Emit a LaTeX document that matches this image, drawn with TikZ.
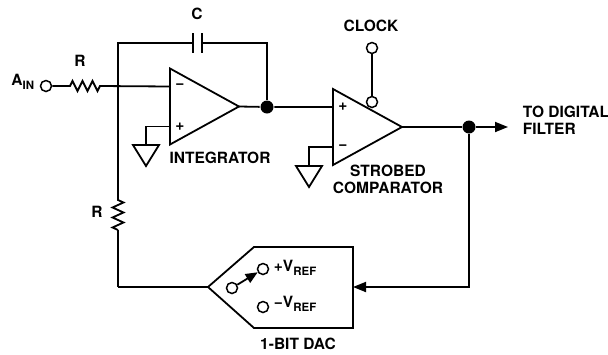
\documentclass[tikz,border=0pt]{standalone}
\usepackage{fontspec}
\setmainfont{TeX Gyre Heros}
\usetikzlibrary{positioning,arrows.meta}

\newcommand{\lowtext}[1]{\raisebox{-0.55ex}{\fontsize{11.5}{12}\selectfont #1}}

\begin{document}
\begin{tikzpicture}[x=1pt,y=-1pt,line width=1.8pt,
  lbl/.style={font=\fontsize{15.5}{17}\selectfont\bfseries,inner sep=0pt},
  pinterm/.style={circle,draw,fill=white,minimum size=11pt,inner sep=0pt,line width=1.5pt},
  joint/.style={circle,fill=black,minimum size=13pt,inner sep=0pt},
  flowarrow/.style={-{Triangle[length=13pt,width=10pt]}},
  pics/gnd/.style={code={\draw (-13,0) -- (13,0) -- (0,21) -- cycle;}},
  pics/opamp/.style 2 args={code={
    \draw (0,-38) -- (69,0) -- (0,38) -- cycle;
    \coordinate (-a) at (0,-20);
    \coordinate (-b) at (0,20);
    \coordinate (-out) at (69,0);
    \node[lbl] at (10,-20) {#1};
    \node[lbl] at (10,20) {#2};}}]

  \useasboundingbox (0,0) rectangle (608,354);

  % op amps
  \pic (int) at (170,106.5) {opamp={−}{+}};
  \pic (cmp) at (333,127) {opamp={+}{−}};

  % terminals and junctions
  \node[pinterm] (ain) at (46,86) {};
  \node[pinterm] (clk) at (372,48) {};
  \node[pinterm] (strobe) at (372,102) {};
  \node[joint] (j1) at (267,107) {};
  \node[joint] (j2) at (469,127) {};

  \coordinate (r1a) at (68,86);
  \coordinate (r1b) at (100,86);
  \coordinate (r2a) at (118,198);
  \coordinate (r2b) at (118,230);
  \coordinate (topleft) at (118,43);
  \coordinate (c1) at (193,43);
  \coordinate (c2) at (202,43);
  \coordinate (topright) at (267,43);
  \coordinate (botleft) at (118,287);
  \coordinate (out) at (508,127);
  \coordinate (botright) at (469,287);

  % 1-bit dac
  \coordinate (dacin) at (208,287);
  \coordinate (dacout) at (353,287);
  \draw (dacin) -- (254,247) -- (353,247) -- (353,328) -- (254,328) -- cycle;
  \node[pinterm] (swc) at (232,288) {};
  \node[pinterm] (swp) at (263,269) {};
  \node[pinterm] (swm) at (263,307) {};
  \draw[-{Triangle[length=12pt,width=10pt]}] (swc) -- (swp);

  % grounds
  \draw (int-b) -| (146,145) pic {gnd};
  \draw (cmp-b) -| (309,166) pic {gnd};

  % input resistor
  \draw (ain) -- (r1a) -- ++(2,0) -- ++(2.5,-5)
    \foreach \i in {1,...,5} {-- ++(5,{10*(-1)^(\i+1)})} -- ++(2.5,-5) -- (r1b) -- (int-a);

  % feedback capacitor
  \draw (botleft) -- (r2b);
  \draw (r2a) -- ++(0,2) -- ++(5.5,2.5)
    \foreach \i in {1,...,5} {-- ++({11*(-1)^\i},5)} -- ++(5.5,2.5) -- (r2b);
  \draw (r2a) -- (topleft) -- (c1);
  \draw (c2) -- (topright) -- (j1);
  \draw (193,33) -- (193,53) (202,33) -- (202,53);

  % signal path
  \draw (int-out) -- (j1) -- (cmp-a);
  \draw (clk) -- (strobe);
  \draw[flowarrow] (cmp-out) -- (j2) -- (out);
  \draw[flowarrow] (j2) -- (botright) -- (dacout);
  \draw (dacin) -- (botleft);

  % labels
  \node[lbl] at (197,14) {C};
  \node[lbl] at (80,61) {R};
  \node[lbl] at (97,212) {R};
  \node[lbl,anchor=east] at (35,82) {A\lowtext{IN}};
  \node[lbl] at (220,158) {INTEGRATOR};
  \node[lbl] at (371,26) {CLOCK};
  \node[lbl,align=center] at (388,179.5) {STROBED\\COMPARATOR};
  \node[lbl,align=left,anchor=west] at (522,120) {TO DIGITAL\\FILTER};
  \node[lbl,anchor=west] at (273,268) {+V\lowtext{REF}};
  \node[lbl,anchor=west] at (273,304) {−V\lowtext{REF}};
  \node[lbl] at (298,344) {1-BIT DAC};

\end{tikzpicture}
\end{document}
